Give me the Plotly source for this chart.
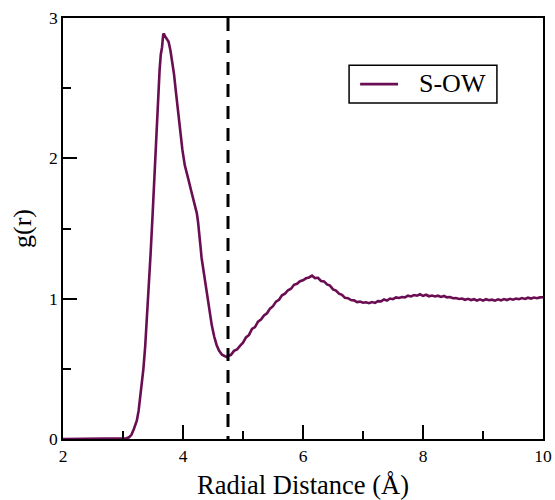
import plotly.graph_objects as go

# Radial distribution function S-OW
r = [2.00, 2.50, 3.00, 3.06, 3.10, 3.14, 3.18, 3.20, 3.23, 3.26, 3.28, 3.31, 3.34, 3.37,
     3.40, 3.43, 3.46, 3.49, 3.52, 3.55, 3.58, 3.61, 3.63, 3.65, 3.67, 3.68,
     3.70, 3.73, 3.76, 3.79, 3.82, 3.85, 3.88, 3.91, 3.95, 3.99, 4.03, 4.06, 4.09,
     4.13, 4.17, 4.20, 4.23, 4.25, 4.27, 4.29, 4.31, 4.35, 4.39, 4.43, 4.48, 4.52,
     4.56, 4.60, 4.65, 4.70, 4.73,
     4.75, 4.80, 4.85, 4.90, 4.95, 5.00, 5.05, 5.10, 5.15, 5.20, 5.25, 5.30, 5.35,
     5.40, 5.45, 5.50, 5.55, 5.60, 5.65, 5.70, 5.75, 5.80, 5.85, 5.90, 5.95, 6.00,
     6.05, 6.10, 6.15, 6.20, 6.25, 6.30, 6.35, 6.40, 6.45, 6.50, 6.55, 6.60, 6.65,
     6.70, 6.75, 6.80, 6.85, 6.90, 6.95, 7.00, 7.05, 7.10, 7.15, 7.20, 7.25, 7.30,
     7.35, 7.40, 7.45, 7.50, 7.55, 7.60, 7.65, 7.70, 7.75, 7.80, 7.85, 7.90, 7.95,
     8.00, 8.05, 8.10, 8.15, 8.20, 8.25, 8.30, 8.35, 8.40, 8.45, 8.50, 8.55, 8.60,
     8.65, 8.70, 8.75, 8.80, 8.85, 8.90, 8.95, 9.00, 9.05, 9.10, 9.15, 9.20, 9.25,
     9.30, 9.35, 9.40, 9.45, 9.50, 9.55, 9.60, 9.65, 9.70, 9.75, 9.80, 9.85, 9.90,
     9.95, 10.00]
g = [0.000, 0.000, 0.000, 0.005, 0.012, 0.030, 0.070, 0.090, 0.130, 0.200, 0.270, 0.380, 0.500, 0.660,
     0.860, 1.080, 1.320, 1.570, 1.850, 2.120, 2.400, 2.630, 2.740, 2.790, 2.880, 2.890,
     2.870, 2.850, 2.830, 2.770, 2.690, 2.600, 2.480, 2.360, 2.200, 2.060, 1.950, 1.890, 1.850,
     1.780, 1.710, 1.660, 1.610, 1.550, 1.480, 1.380, 1.290, 1.170, 1.050, 0.930, 0.810, 0.730,
     0.670, 0.630, 0.600, 0.590, 0.585,
     0.592, 0.600, 0.628, 0.638, 0.664, 0.686, 0.724, 0.742, 0.785, 0.797, 0.836, 0.851, 0.880,
     0.896, 0.929, 0.946, 0.979, 0.992, 1.024, 1.036, 1.060, 1.071, 1.099, 1.106, 1.124, 1.131,
     1.145, 1.151, 1.164, 1.147, 1.149, 1.126, 1.123, 1.101, 1.093, 1.066, 1.058, 1.036, 1.028,
     1.006, 1.003, 0.990, 0.988, 0.976, 0.979, 0.971, 0.974, 0.968, 0.976, 0.970, 0.982, 0.981,
     0.994, 0.987, 1.001, 0.996, 1.009, 1.005, 1.012, 1.009, 1.021, 1.016, 1.026, 1.021, 1.031,
     1.020, 1.028, 1.017, 1.022, 1.016, 1.021, 1.012, 1.019, 1.009, 1.012, 1.003, 1.004, 0.998,
     1.001, 0.992, 0.999, 0.990, 0.996, 0.987, 0.995, 0.986, 0.996, 0.989, 0.993, 0.986, 0.995,
     0.988, 0.997, 0.990, 0.999, 0.993, 1.001, 0.996, 1.004, 0.998, 1.007, 1.001, 1.008, 1.003,
     1.009, 1.010]

series_name = "S-OW"
cutoff = 4.75          # first-minimum position (dashed line)
x_ticks = [2, 4, 6, 8, 10]
y_ticks = [0, 1, 2, 3]

line_color = "#6a0d52"
font_family = "Liberation Serif"

fig = go.Figure()
fig.add_trace(go.Scatter(
    x=r, y=g, mode="lines", name=series_name, showlegend=False,
    line=dict(color=line_color, width=2.6),
))

# first-minimum marker
fig.add_shape(type="line", xref="x", yref="y",
              x0=cutoff, x1=cutoff, y0=3, y1=0,
              line=dict(color="black", width=3, dash="13px,9px"))

# boxed legend (drawn in paper coordinates)
fig.add_shape(type="rect", xref="paper", yref="paper",
              x0=0.596, x1=0.904, y0=0.798, y1=0.888,
              line=dict(color="black", width=1.5), fillcolor="white", layer="above")
fig.add_shape(type="line", xref="paper", yref="paper",
              x0=0.619, x1=0.698, y0=0.843, y1=0.843,
              line=dict(color=line_color, width=2.6), layer="above")
fig.add_annotation(xref="paper", yref="paper", x=0.738, y=0.845,
                   xanchor="left", yanchor="middle", showarrow=False,
                   text=series_name, font=dict(family=font_family, size=26, color="black"))

axis_common = dict(
    showline=True, linecolor="black", linewidth=1.5, mirror=True,
    ticks="inside", ticklen=14, tickwidth=1.5, tickcolor="black",
    showgrid=False, zeroline=False, automargin=False,
    tickfont=dict(family=font_family, size=17.5, color="black"),
)

fig.update_xaxes(
    range=[2, 10], tickvals=x_ticks, ticktext=[str(v) for v in x_ticks],
    minor=dict(ticks="inside", ticklen=8, tickwidth=1.5, tickcolor="black", dtick=1, tick0=0),
    title=dict(text="Radial Distance (Å)", font=dict(family=font_family, size=26.5, color="black"), standoff=12),
    **axis_common,
)
fig.update_yaxes(
    range=[0, 3], tickvals=y_ticks, ticktext=[str(v) for v in y_ticks],
    minor=dict(ticks="inside", ticklen=8, tickwidth=1.5, tickcolor="black", dtick=0.5, tick0=0),
    title=dict(text="g(r)", font=dict(family=font_family, size=26, color="black"), standoff=10),
    **axis_common,
)

fig.update_layout(
    width=555, height=500,
    margin=dict(l=63, r=12, t=18, b=61),
    paper_bgcolor="white", plot_bgcolor="white",
    font=dict(family=font_family, color="black"),
    showlegend=False,
)

fig.write_html("out.html")
